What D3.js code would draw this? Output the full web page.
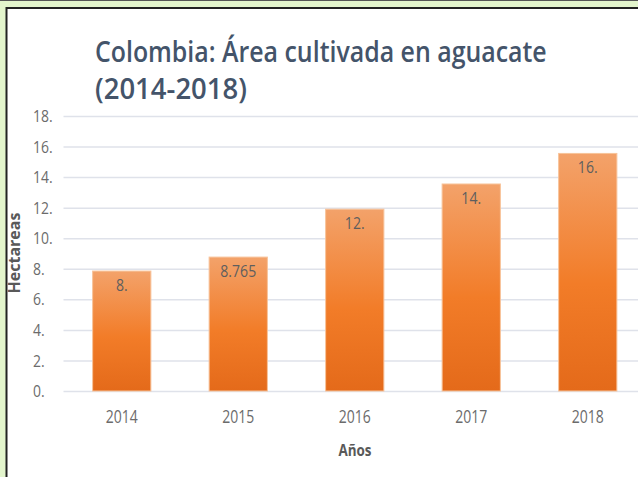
<!DOCTYPE html>
<html><head><meta charset="utf-8">
<script src="https://cdn.jsdelivr.net/npm/d3@7"></script>
<style>
html,body{margin:0;padding:0;background:#fff;overflow:hidden}
svg{display:block}
</style></head>
<body>
<svg id="c" width="638" height="477"></svg>
<script>
const years = ["2014","2015","2016","2017","2018"];
const values = [7.85, 8.765, 11.9, 13.55, 15.55];
const valueLabels = ["8.","8.765","12.","14.","16."];
const yTicks = [0,2,4,6,8,10,12,14,16,18];
const yTickLabels = ["0.","2.","4.","6.","8.","10.","12.","14.","16.","18."];
const titleLines = ["Colombia: Área cultivada en aguacate","(2014-2018)"];
const yTitle = "Hectareas";
const xTitle = "Años";

const svg = d3.select("#c");
const W = 638, H = 477;
const font = "'Open Sans', 'Noto Sans', sans-serif";
const SX = 0.84;

// frame background
svg.append("rect").attr("x",0).attr("y",0).attr("width",W).attr("height",H).attr("fill","#e3f5cc");
svg.append("line").attr("x1",0).attr("x2",W).attr("y1",0.5).attr("y2",0.5).attr("stroke","#555").attr("stroke-width",1);
svg.append("rect").attr("x",7).attr("y",8.5).attr("width",W).attr("height",H).attr("fill","#fff");
svg.append("line").attr("x1",6.5).attr("x2",W).attr("y1",8).attr("y2",8).attr("stroke","#222").attr("stroke-width",2);
svg.append("line").attr("x1",6.5).attr("x2",6.5).attr("y1",7).attr("y2",H).attr("stroke","#222").attr("stroke-width",2);

const x = d3.scaleBand().domain(years).range([63.5, 646]).paddingInner(0.5).paddingOuter(0.25);
const y = d3.scaleLinear().domain([0,18]).range([391,116]);

// gridlines
const gridG = svg.append("g").attr("transform","translate(63.5,0)")
  .call(d3.axisLeft(y).tickValues(yTicks).tickSize(-(W-63.5)).tickFormat(""));
gridG.select(".domain").remove();
gridG.selectAll(".tick line").attr("stroke","#dfe2ea").attr("stroke-width",1.5);

// y tick labels
const yAx = svg.append("g").attr("transform","translate(33,0)")
  .call(d3.axisLeft(y).tickValues(yTicks).tickSize(0).tickPadding(0).tickFormat((d,i)=>yTickLabels[i]));
yAx.select(".domain").remove();
yAx.selectAll("text").attr("font-family",font).attr("font-size",15.5).attr("fill","#6b6b6b")
  .attr("text-anchor","start").attr("x",0).attr("dy","0.36em").attr("transform",`scale(${SX+0.06},1)`);

// gradient
const defs = svg.append("defs");
const grad = defs.append("linearGradient").attr("id","g1").attr("x1",0).attr("y1",0).attr("x2",0).attr("y2",1);
grad.append("stop").attr("offset","0%").attr("stop-color","#f3a26a");
grad.append("stop").attr("offset","55%").attr("stop-color","#f27c28");
grad.append("stop").attr("offset","100%").attr("stop-color","#e46a1a");

svg.append("g").selectAll("rect").data(values).join("rect")
  .attr("x",(d,i)=>x(years[i]))
  .attr("width",x.bandwidth())
  .attr("y",d=>y(d))
  .attr("height",d=>y(0)-y(d))
  .attr("fill","url(#g1)")
  .attr("stroke","#f7c39a").attr("stroke-width",1);

svg.append("g").selectAll("text").data(values).join("text")
  .attr("transform",(d,i)=>`translate(${x(years[i])+x.bandwidth()/2},${y(d)+20}) scale(${SX+0.04},1)`)
  .attr("text-anchor","middle")
  .attr("font-family",font).attr("font-size",16).attr("fill","#5e5e5e")
  .text((d,i)=>valueLabels[i]);

// x axis labels
const xAx = svg.append("g").attr("transform","translate(0,391)")
  .call(d3.axisBottom(x).tickSize(0).tickPadding(0));
xAx.select(".domain").remove();
xAx.selectAll("text").attr("font-family",font).attr("font-size",17.5).attr("fill","#6b6b6b")
  .attr("y",32).attr("dy",0).attr("transform",`scale(${SX-0.04},1)`);

// axis titles
svg.append("text").attr("transform",`translate(355,456) scale(${SX},1)`).attr("text-anchor","middle")
  .attr("font-family",font).attr("font-size",16).attr("font-weight",700).attr("fill","#595959")
  .text(xTitle);
svg.append("text").attr("transform","translate(20,253) rotate(-90)").attr("text-anchor","middle")
  .attr("font-family",font).attr("font-size",16).attr("font-weight",700).attr("fill","#595959")
  .text(yTitle);

// title
function fitTitle(txt, yPos, targetW) {
  const g = svg.append("g");
  const t = g.append("text").attr("x",0).attr("y",0)
    .attr("font-family",font).attr("font-size",28.5).attr("font-weight",600).attr("fill","#44546a")
    .text(txt);
  const s = targetW / t.node().getComputedTextLength();
  g.attr("transform",`translate(95,${yPos}) scale(${s},1)`);
}
fitTitle(titleLines[0], 62, 452);
fitTitle(titleLines[1], 99, 152);
</script>
</body></html>
